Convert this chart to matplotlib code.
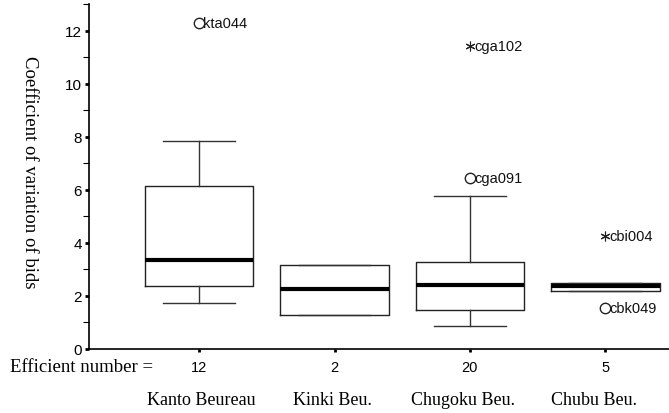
import numpy as np
import matplotlib
matplotlib.use("Agg")
import matplotlib.pyplot as plt
from matplotlib.ticker import MultipleLocator
from matplotlib.transforms import blended_transform_factory

# data
regions = ["Kanto Beureau", "Kinki Beu.", "Chugoku Beu.", "Chubu Beu."]
counts = [12, 2, 20, 5]
whis_lo = [1.73, 1.27, 0.88, 2.17]
q1 = [2.37, 1.27, 1.47, 2.17]
med = [3.34, 2.25, 2.42, 2.39]
q3 = [6.13, 3.16, 3.26, 2.47]
whis_hi = [7.83, 3.16, 5.75, 2.47]

out_group = [0, 2, 2, 3, 3]
out_value = [12.28, 11.40, 6.45, 4.24, 1.54]
out_label = ["kta044", "cga102", "cga091", "cbi004", "cbk049"]
out_kind = ["o", "*", "o", "*", "o"]

serif = "Liberation Serif"
sans = "Liberation Sans"

fig = plt.figure(figsize=(6.69, 4.14), dpi=100)
ax = fig.add_axes([89 / 669, 64 / 414, 1 - 89 / 669, 345 / 414])

pos = np.arange(1, len(regions) + 1)
stats = []
for i in range(len(regions)):
    stats.append({"whislo": whis_lo[i], "q1": q1[i], "med": med[i],
                  "q3": q3[i], "whishi": whis_hi[i], "fliers": []})

ax.bxp(stats, positions=pos, widths=0.8, capwidths=0.53, showfliers=False,
       boxprops=dict(color="#222222", linewidth=1.0),
       whiskerprops=dict(color="#333333", linewidth=1.0),
       capprops=dict(color="#333333", linewidth=1.0),
       medianprops=dict(color="black", linewidth=3.0))

# outliers with case labels
for g, v, lab, k in zip(out_group, out_value, out_label, out_kind):
    x = pos[g]
    if k == "o":
        ax.plot(x, v, marker="o", ms=7.5, mfc="white", mec="#222222", mew=1.0,
                clip_on=False, zorder=5)
    else:
        ax.plot(x, v, marker=(6, 2, 0), ms=7, color="#222222", mew=0.8,
                clip_on=False, zorder=5)
    ax.text(x + 0.03, v, lab, family=sans, fontsize=10.5, va="center",
            ha="left", color="#111111")

ax.set_xlim(0.187, 4.47)
ax.set_ylim(0, 13)
ax.spines["top"].set_visible(False)
ax.spines["right"].set_visible(False)
ax.spines["left"].set_linewidth(1.2)
ax.spines["bottom"].set_linewidth(1.2)

ax.yaxis.set_major_locator(MultipleLocator(2))
ax.yaxis.set_minor_locator(MultipleLocator(1))
ax.tick_params(axis="y", which="major", length=3, width=2, pad=2,
               labelsize=11)
ax.tick_params(axis="y", which="minor", length=4, width=0.8)
for t in ax.get_yticklabels():
    t.set_family(sans)

ax.set_xticks(pos)
ax.set_xticklabels([str(c) for c in counts], family=sans, fontsize=10.5)
ax.tick_params(axis="x", length=2, width=2, pad=6)

ax.set_ylabel("Coefficient of variation of bids", family=serif, fontsize=13.5,
               rotation=270, va="center")
ax.yaxis.set_label_coords(-0.102, 0.516)

# region names sit a little left of the box centres in the original
label_x = 1.02 + 0.965 * (pos - 1)
tr = blended_transform_factory(ax.transData, fig.transFigure)
for x, name in zip(label_x, regions):
    ax.text(x, 1 - 401 / 414, name, transform=tr, family=serif, fontsize=13,
            ha="center", va="center")

fig.text(10 / 669, 1 - 367 / 414, "Efficient number =", family=serif,
         fontsize=13.5, ha="left", va="center")

fig.savefig("out.png", dpi=100)
